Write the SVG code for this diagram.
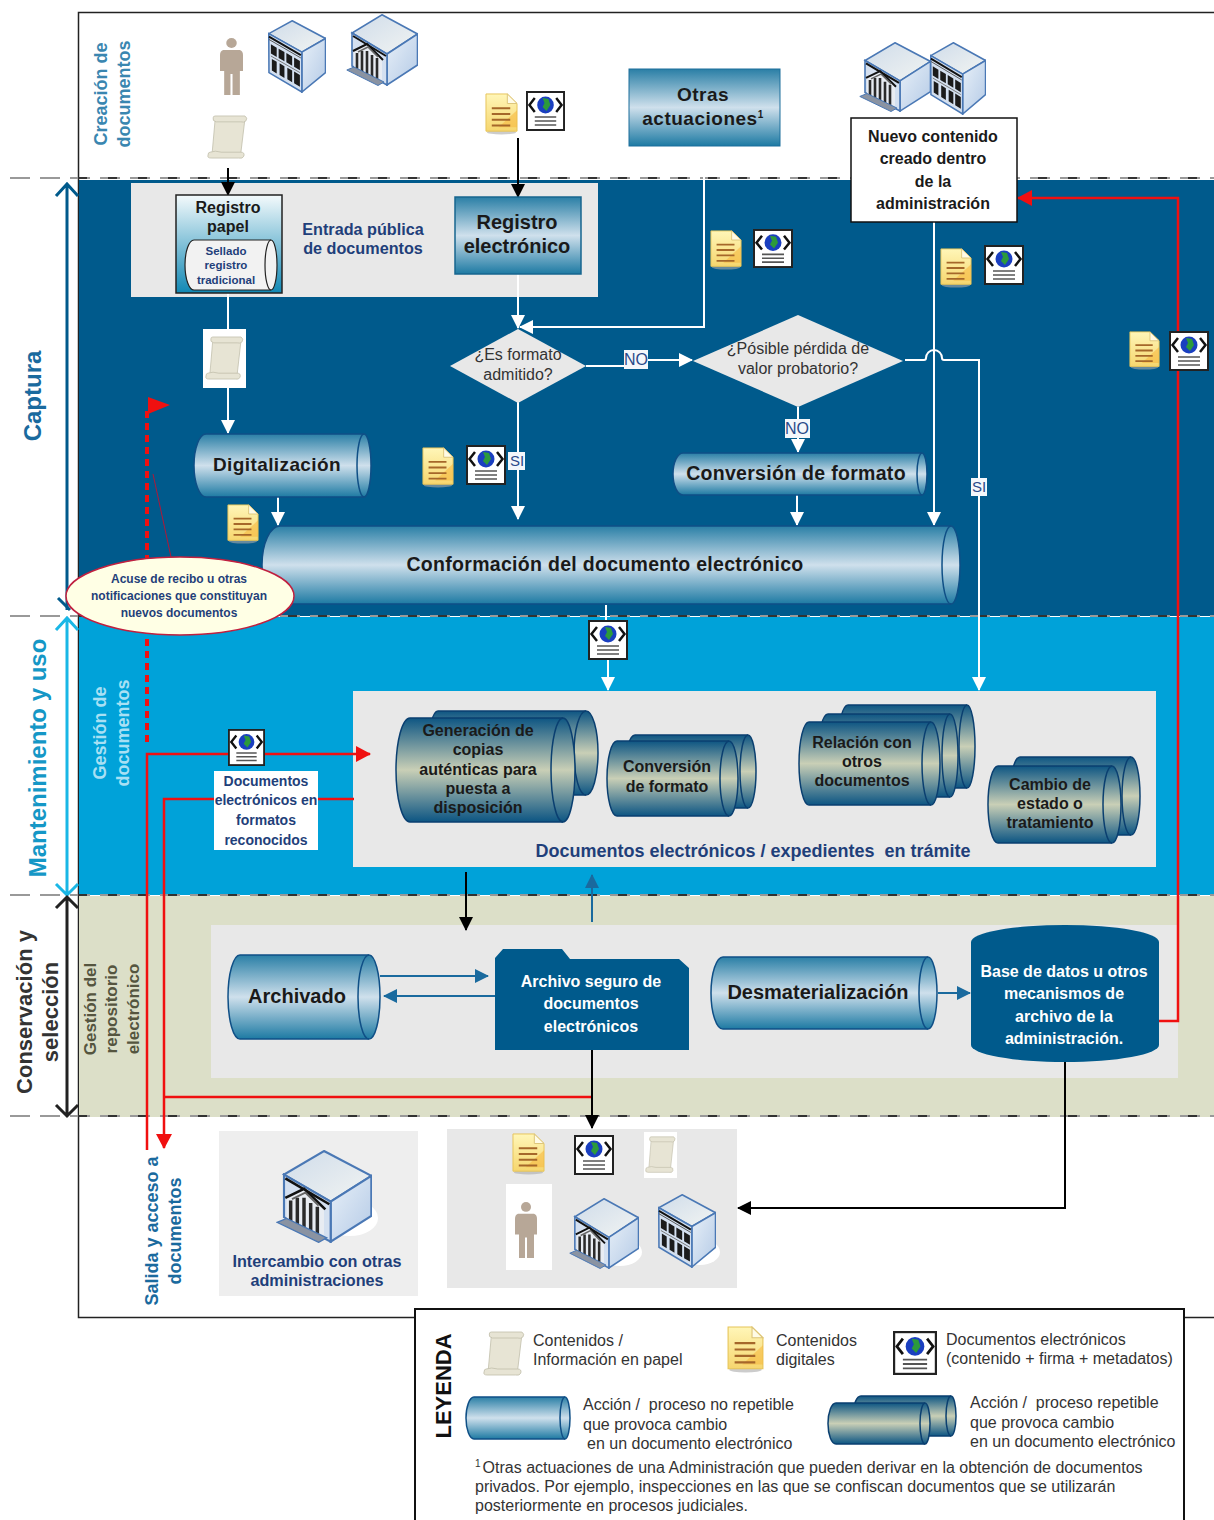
<svg xmlns="http://www.w3.org/2000/svg" width="1214" height="1520" viewBox="0 0 1214 1520">
<style>
text{font-family:"Liberation Sans",Arial,sans-serif;text-anchor:middle;white-space:pre}
.b{font-weight:bold}
.k{fill:#1a1a1a;font-weight:bold}
.n{fill:#1f3f7a;font-weight:bold}
.g{fill:#333;font-size:16px;text-anchor:start}
.w{fill:#fff;font-weight:bold}
.wl{fill:none;stroke:#fff;stroke-width:2}
.bl{fill:none;stroke:#000;stroke-width:2}
.rl{fill:none;stroke:#f01010;stroke-width:2.5}
.tl{fill:none;stroke:#1a6a9e;stroke-width:2}
.cy{stroke:#0f4f86;stroke-width:1.5}
.st{stroke:#0a3f70;stroke-width:1.5}
.lb{fill:#2b4a8a;font-size:16px}
.lbb{fill:#f4f7fb}
.sc{fill:#e7e4d4;stroke:#c2bfac;stroke-width:.8}
</style>
<defs>
<linearGradient id="gb" x1="0" y1="0" x2="0" y2="1"><stop offset="0" stop-color="#2a7fa6"/><stop offset=".5" stop-color="#cfe0ec"/><stop offset="1" stop-color="#1d7aa3"/></linearGradient>
<linearGradient id="gs" x1="0" y1="0" x2="0" y2="1"><stop offset="0" stop-color="#0e5683"/><stop offset=".5" stop-color="#c9cfb6"/><stop offset="1" stop-color="#0c5583"/></linearGradient>
<linearGradient id="gp" x1="0" y1="0" x2="0" y2="1"><stop offset="0" stop-color="#f4fafc"/><stop offset="1" stop-color="#1188b4"/></linearGradient>
<linearGradient id="gd" x1="0" y1="0" x2="0" y2="1"><stop offset="0" stop-color="#fff6b8"/><stop offset="1" stop-color="#f6d66e"/></linearGradient>
<linearGradient id="gf" x1="0" y1="0" x2="1" y2="1"><stop offset="0" stop-color="#e8f0f8"/><stop offset="1" stop-color="#b4cae6"/></linearGradient>
<linearGradient id="gt" x1="0" y1="0" x2="1" y2="1"><stop offset="0" stop-color="#cfdcea"/><stop offset="1" stop-color="#f2f4f2"/></linearGradient>
<marker id="aw" markerUnits="userSpaceOnUse" markerWidth="14" markerHeight="14" refX="13" refY="7" orient="auto"><path d="M0 0L14 7L0 14z" fill="#fff"/></marker>
<marker id="ak" markerUnits="userSpaceOnUse" markerWidth="14" markerHeight="14" refX="13" refY="7" orient="auto"><path d="M0 0L14 7L0 14z" fill="#000"/></marker>
<marker id="ar" markerUnits="userSpaceOnUse" markerWidth="15" markerHeight="16" refX="14" refY="8" orient="auto"><path d="M0 0L15 8L0 16z" fill="#f01010"/></marker>
<marker id="at" markerUnits="userSpaceOnUse" markerWidth="14" markerHeight="14" refX="13" refY="7" orient="auto"><path d="M0 0L14 7L0 14z" fill="#1a6a9e"/></marker>
<symbol id="scroll" viewBox="0 0 40 46" preserveAspectRatio="none"><path class="sc" d="M8 4H37L33 39H5Z"/><path class="sc" d="M8 1H37Q40 3 38 6Q36 8 33 7H9Q5 6 6 3Q6 1 8 1Z"/><path class="sc" d="M3 38Q8 36 14 38H33Q37 38 36 42Q35 45 31 44H4Q0 44 1 41Q1 38 3 38Z"/></symbol>
<symbol id="doc" viewBox="0 0 34 44" preserveAspectRatio="none"><ellipse cx="17" cy="41" rx="15" ry="2.500" fill="#aaa" opacity=".6"/><path d="M1 1H23L33 11V40H1Z" fill="url(#gd)" stroke="#e6c458"/><path d="M33 18V36H14Z" fill="#f6b63c" opacity=".55"/><path d="M23 1V11H33Z" fill="#fffbe6" stroke="#dcc478"/><path d="M7 16H26M7 22H26M7 28H26M7 34H26" stroke="#a5672a" stroke-width="2"/></symbol>
<symbol id="edoc" viewBox="0 0 40 40" preserveAspectRatio="none"><rect x="1" y="1" width="38" height="38" fill="#fff" stroke="#222" stroke-width="2"/><circle cx="20" cy="14" r="8.500" fill="#1a3fc0"/><path d="M17 7L23 8L25 14L21 20L17 16L19 12Z" fill="#2c9a3c"/><path d="M9 7L3.500 14L9 21M31 7L36.500 14L31 21" fill="none" stroke="#111" stroke-width="2.500"/><path d="M9 26H31M9 30H31M9 34H31" stroke="#555" stroke-width="1.600"/></symbol>
<symbol id="person" viewBox="0 0 22 58" preserveAspectRatio="none"><circle cx="11" cy="5" r="5" fill="#b7a797"/><path d="M3 12H19Q22 13 22 17V33H19V18V57H12V36H10V57H4V33V18V33H0V17Q0 13 3 12Z" fill="#b7a797"/></symbol>
<symbol id="office" viewBox="0 0 60 75" preserveAspectRatio="none"><path d="M25 .8L59.500 19L35 33L.8 14Z" fill="url(#gt)" stroke="#4a78b5" stroke-width="1.600"/><path d="M35 33L59.500 19V54L35 74Z" fill="url(#gf)" stroke="#4a78b5" stroke-width="1.600"/><path d="M.8 14L35 33V74L1 54Z" fill="#d4e0f0" stroke="#4a78b5" stroke-width="1.600"/><path d="M1 17L34 36" stroke="#111" stroke-width="2"/><path d="M1 20L34 39" stroke="#555" stroke-width="1"/><path fill="#1b1b1b" d="M3 25L9 28.500V38L3 34.500ZM11 29.500L17 33V42.500L11 39ZM19 34L25 37.500V47L19 43.500ZM27 38.500L33 42V51.500L27 48ZM4 40L9 43V55L4 52ZM12 44.500L17 47.500V59.500L12 56.500ZM20 49L25 52V64L20 61ZM27 53L33 56.500V68.500L27 65Z"/><path d="M3 37L33 54" stroke="#777" stroke-width="1"/></symbol>
<symbol id="bank" viewBox="0 0 72 72" preserveAspectRatio="none"><path d="M36 .8L71.500 20L41 40L6 19Z" fill="url(#gt)" stroke="#4a78b5" stroke-width="1.600"/><path d="M41 40L71.500 20V51L41 71Z" fill="url(#gf)" stroke="#4a78b5" stroke-width="1.600"/><path d="M6 19L41 40V71L6 52Z" fill="#d4e0f0" stroke="#4a78b5" stroke-width="1.600"/><path d="M7 22L40 42" stroke="#111" stroke-width="2"/><path d="M8 37L21 31L36 46V66L8 53Z" fill="#e8ecf2"/><path d="M7 37L21 30L37 46" fill="none" stroke="#111" stroke-width="2"/><path d="M11 39V55M16 37V58M21 37V60M26 41V63M31 44V65" stroke="#2a2a2a" stroke-width="2.600"/><path d="M12 38L22 33L32 43" fill="none" stroke="#666" stroke-width="1.500"/><path d="M.8 56L8 53L38 68L32 71.500Z" fill="#8a93a2" stroke="#4a78b5"/></symbol>
</defs>

<g id="bands">
<rect x="78.500" y="12.500" width="1140" height="1305" fill="#fff" stroke="#222" stroke-width="1.500"/>
<rect x="79" y="180" width="1135" height="436" fill="#005a8c"/>
<rect x="79" y="617" width="1135" height="278" fill="#00a2d9"/>
<rect x="79" y="896" width="1135" height="221" fill="#dcdfc8"/>
<path d="M10 178H1214M10 616H1214M10 895H1214M10 1116H1214" stroke="#999" stroke-width="2" stroke-dasharray="20 10"/>
<path d="M78 178H1214M78 616H1214M78 895H1214M78 1116H1214" stroke="#111" stroke-width="1.500" stroke-dasharray="9 21"/>
<path d="M67 610V184M56 196L67 184L78 196" fill="none" stroke="#005a8c" stroke-width="3"/>
<path d="M58 598L70 610" stroke="#005a8c" stroke-width="3"/>
<path d="M67 896V618M56 630L67 618L78 630M56 884L67 895L78 884" fill="none" stroke="#1ab7e6" stroke-width="3"/>
<path d="M67 1116V897M56 908L67 897L78 908M56 1105L67 1116L78 1105" fill="none" stroke="#222" stroke-width="3"/>
</g>

<g id="panels">
<rect x="131" y="183" width="467" height="114" fill="#e8e8e8"/>
<rect x="353" y="691" width="803" height="176" fill="#e8e8e8"/>
<rect x="211" y="925" width="967" height="153" fill="#e8e8e8"/>
<rect x="219" y="1131" width="199" height="165" fill="#eeeeee"/>
<rect x="447" y="1129" width="290" height="159" fill="#e8e8e8"/>
</g>

<g id="connectors">
<path class="bl" d="M228 168V195" marker-end="url(#ak)"/>
<path class="bl" d="M518 138V197" marker-end="url(#ak)"/>
<path class="bl" d="M466 872V930" marker-end="url(#ak)"/>
<path class="wl" d="M228 293V329"/>
<path class="wl" d="M228 388V433" marker-end="url(#aw)"/>
<path class="wl" d="M518 274V328" marker-end="url(#aw)"/>
<path class="wl" d="M704 146V327H520" marker-end="url(#aw)"/>
<path class="wl" d="M518 402V519" marker-end="url(#aw)"/>
<path class="wl" d="M586 366H636V360H692" marker-end="url(#aw)"/>
<path class="wl" d="M798 407V452" marker-end="url(#aw)"/>
<path class="wl" d="M278 497V525" marker-end="url(#aw)"/>
<path class="wl" d="M797 495V525" marker-end="url(#aw)"/>
<path class="wl" d="M934 222V525" marker-end="url(#aw)"/>
<path class="wl" d="M905 360H924Q926 360 926 358A8 8 0 0 1 942 358Q942 360 944 360H979V690" marker-end="url(#aw)"/>
<path class="wl" d="M606 605V622"/>
<path class="wl" d="M608 660V690" marker-end="url(#aw)"/>
<path class="tl" d="M380 976H488" marker-end="url(#at)"/>
<path class="tl" d="M495 996H384" marker-end="url(#at)"/>
<path class="tl" d="M592 922V875" marker-end="url(#at)"/>
<path class="tl" d="M938 993H970" marker-end="url(#at)"/>
<path class="rl" d="M1159 1021H1178V198H1018" marker-end="url(#ar)"/>
<path class="rl" d="M147 1150V754H370" marker-end="url(#ar)"/>
<path class="rl" d="M354 799H164V1148" marker-end="url(#ar)"/>
<path class="rl" d="M164 1097H592"/>
<path d="M147 742V410" fill="none" stroke="#f01010" stroke-width="4" stroke-dasharray="7 5"/>
<path d="M148 397L170 405L148 414Z" fill="#f01010"/>
<path d="M171 557L153 474" fill="none" stroke="#b01838" stroke-width="1"/>
<path class="bl" d="M592 1050V1128" marker-end="url(#ak)"/>
<path class="bl" d="M1065 1062V1208H738" marker-end="url(#ak)"/>
<g id="connector-labels">
<rect class="lbb" x="624" y="350" width="24" height="19"/><rect class="lbb" x="785" y="419" width="25" height="19"/>
<rect class="lbb" x="508" y="452" width="17" height="18"/><rect class="lbb" x="971" y="478" width="16" height="18"/>
<text x="636" y="365" class="lb">NO</text><text x="797" y="434" class="lb">NO</text><text x="517" y="466" class="lb" style="font-size:15px">SI</text><text x="979" y="492" class="lb" style="font-size:15px">SI</text>
</g>
</g>

<g id="side-labels">
<text transform="translate(41,396) rotate(-90)" font-size="24" class="b" fill="#1a6a9e">Captura</text>
<text transform="translate(46,758) rotate(-90)" font-size="24" class="b" fill="#1597c6">Mantenimiento y uso</text>
<text transform="translate(32,1012) rotate(-90)" font-size="22" class="b" fill="#333">Conservación y</text>
<text transform="translate(58,1012) rotate(-90)" font-size="22" class="b" fill="#333">selección</text>
<text transform="translate(107,94) rotate(-90)" font-size="18" class="b" fill="#3a86b0">Creación de</text>
<text transform="translate(130,94) rotate(-90)" font-size="18" class="b" fill="#3a86b0">documentos</text>
<text transform="translate(106,733) rotate(-90)" font-size="18" class="b" fill="#a8e0f4">Gestión de</text>
<text transform="translate(129,733) rotate(-90)" font-size="18" class="b" fill="#a8e0f4">documentos</text>
<text transform="translate(96,1009) rotate(-90)" font-size="17" class="b" fill="#55553f">Gestión del</text>
<text transform="translate(117,1009) rotate(-90)" font-size="17" class="b" fill="#55553f">repositorio</text>
<text transform="translate(139,1009) rotate(-90)" font-size="17" class="b" fill="#55553f">electrónico</text>
<text transform="translate(158,1231) rotate(-90)" font-size="18" class="b" fill="#1a6a9e">Salida y acceso a</text>
<text transform="translate(181,1231) rotate(-90)" font-size="18" class="b" fill="#1a6a9e">documentos</text>
</g>

<g id="icons">
<use href="#person" x="220" y="38" width="23" height="58"/>
<use href="#office" x="268" y="20" width="58" height="73"/>
<use href="#bank" x="346" y="14" width="72" height="72"/>
<use href="#scroll" x="207" y="115" width="41" height="45"/>
<use href="#doc" x="485" y="93" width="33" height="42"/>
<use href="#edoc" x="526" y="91" width="39" height="40"/>
<use href="#bank" x="859" y="42" width="72" height="70"/>
<use href="#office" x="930" y="42" width="56" height="73"/>
<use href="#doc" x="710" y="230" width="32" height="40"/>
<use href="#edoc" x="753" y="229" width="40" height="39"/>
<use href="#doc" x="940" y="248" width="32" height="40"/>
<use href="#edoc" x="984" y="245" width="40" height="40"/>
<use href="#doc" x="1129" y="331" width="31" height="39"/>
<use href="#edoc" x="1169" y="331" width="40" height="40"/>
<rect x="203" y="329" width="43" height="59" fill="#fff"/>
<use href="#scroll" x="205" y="336" width="39" height="45"/>
<use href="#doc" x="422" y="447" width="32" height="41"/>
<use href="#edoc" x="466" y="445" width="40" height="40"/>
<use href="#doc" x="227" y="504" width="32" height="40"/>
<use href="#edoc" x="588" y="620" width="40" height="40"/>
<use href="#edoc" x="228" y="729" width="37" height="37"/>
<use href="#doc" x="512" y="1133" width="33" height="42"/>
<use href="#edoc" x="574" y="1135" width="40" height="40"/>
<rect x="644" y="1132" width="33" height="46" fill="#fff"/>
<use href="#scroll" x="645" y="1136" width="31" height="38"/>
<rect x="506" y="1184" width="46" height="86" fill="#fff"/>
<use href="#person" x="515" y="1202" width="22" height="57"/>
<ellipse cx="620" cy="1252" rx="22" ry="14" fill="#fff"/>
<use href="#bank" x="569" y="1198" width="70" height="71"/>
<ellipse cx="700" cy="1252" rx="20" ry="13" fill="#fff"/>
<use href="#office" x="658" y="1194" width="58" height="74"/>
<ellipse cx="350" cy="1218" rx="28" ry="18" fill="#fff"/>
<use href="#bank" x="276" y="1150" width="96" height="93"/>
</g>

<g id="creation">
<g id="otras"><rect x="629" y="69" width="151" height="77" fill="url(#gb)" stroke="#1d6f9c"/>
<text x="703" y="101" font-size="19" class="k" letter-spacing=".5">Otras</text><text x="703" y="125" font-size="19" class="k" letter-spacing=".5">actuaciones<tspan font-size="10" dy="-7">1</tspan></text></g>
<g id="nuevo"><rect x="851" y="118" width="166" height="104" fill="#fff" stroke="#111" stroke-width="1.500"/>
<g font-size="16" class="k"><text x="933" y="142" class="k">Nuevo contenido</text><text x="933" y="164" class="k">creado dentro</text><text x="933" y="187" class="k">de la</text><text x="933" y="209" class="k">administración</text></g></g>
</g>

<g id="registro">
<g id="reg-papel"><rect x="176" y="195" width="106" height="98" fill="url(#gp)" stroke="#222" stroke-width="1.500"/>
<text x="228" y="213" font-size="16" class="k">Registro</text><text x="228" y="232" font-size="16" class="k">papel</text>
<path d="M194 240H271A6 25 0 0 1 271 290H194A9 25 0 0 1 194 240Z" fill="#f2f2f2" stroke="#222" stroke-width="1.200"/><path d="M271 240A6 25 0 0 0 271 290" fill="none" stroke="#222" stroke-width="1.200"/>
<g font-size="11.500"><text x="226" y="255" class="n">Sellado</text><text x="226" y="269" class="n">registro</text><text x="226" y="284" class="n">tradicional</text></g></g>
<g id="entrada"><text x="363" y="235" font-size="16.200" class="n">Entrada pública</text><text x="363" y="254" font-size="16.200" class="n">de documentos</text></g>
<g id="reg-elec"><rect x="455" y="197" width="126" height="77" fill="url(#gb)" stroke="#17658f" stroke-width="1.500"/>
<text x="517" y="229" font-size="20" class="k">Registro</text><text x="517" y="253" font-size="20" class="k">electrónico</text></g>
</g>

<g id="decisions">
<g id="d1"><path d="M518 329L586 366L518 403L450 366Z" fill="#e8e8e8"/><text x="518" y="360" font-size="16" fill="#333">¿Es formato</text><text x="518" y="380" font-size="16" fill="#333">admitido?</text></g>
<g id="d2"><path d="M798 315L903 361L798 407L693 361Z" fill="#e8e8e8"/><text x="798" y="354" font-size="16" fill="#333">¿Pósible pérdida de</text><text x="798" y="374" font-size="16" fill="#333">valor probatorio?</text></g>
</g>

<g id="processes">
<g id="digital"><path d="M206 434H364A7 31.500 0 0 1 364 497H206A12 31.500 0 0 1 206 434Z" fill="url(#gb)" class="cy"/><path d="M364 434A7 31.500 0 0 0 364 497" fill="none" class="cy"/><text x="277" y="471" font-size="19" class="k" letter-spacing=".4">Digitalización</text></g>
<g id="conversion"><path d="M683 453H922A5 21 0 0 1 922 495H683A10 21 0 0 1 683 453Z" fill="url(#gb)" class="cy"/><path d="M922 453A5 21 0 0 0 922 495" fill="none" class="cy"/><text x="796" y="480" font-size="19.500" class="k" letter-spacing=".3">Conversión de formato</text></g>
<g id="conforma"><path d="M280 526H951A9 39 0 0 1 951 604H280A18 39 0 0 1 280 526Z" fill="url(#gb)" class="cy"/><path d="M951 526A9 39 0 0 0 951 604" fill="none" class="cy"/><text x="605" y="571" font-size="19.500" class="k" letter-spacing=".3">Conformación del documento electrónico</text></g>
<g id="archivado"><path d="M240 955H369A11 42 0 0 1 369 1039H240A12 42 0 0 1 240 955Z" fill="url(#gb)" class="cy"/><path d="M369 955A11 42 0 0 0 369 1039" fill="none" class="cy"/><text x="297" y="1003" font-size="20" class="k">Archivado</text></g>
<g id="desmat"><path d="M723 957H928A9 36 0 0 1 928 1029H723A12 36 0 0 1 723 957Z" fill="url(#gb)" class="cy"/><path d="M928 957A9 36 0 0 0 928 1029" fill="none" class="cy"/><text x="818" y="999" font-size="20" class="k">Desmaterialización</text></g>
</g>

<g id="repeatables">
<g id="copias">
<path d="M438 711H586A12 42 0 0 1 586 795H438A10 42 0 0 1 438 711Z" fill="url(#gs)" class="st"/><path d="M586 711A12 42 0 0 0 586 795" fill="none" class="st"/>
<path d="M410 718H563A12 52 0 0 1 563 822H410A14 52 0 0 1 410 718Z" fill="url(#gs)" class="st"/><path d="M563 718A12 52 0 0 0 563 822" fill="none" class="st"/>
<g font-size="16"><text x="478" y="736" class="k">Generación de</text><text x="478" y="755" class="k">copias</text><text x="478" y="775" class="k">auténticas para</text><text x="478" y="794" class="k">puesta a</text><text x="478" y="813" class="k">disposición</text></g></g>
<g id="conv2">
<path d="M635 735H748A8 36.500 0 0 1 748 808H635A10 36.500 0 0 1 635 735Z" fill="url(#gs)" class="st"/><path d="M748 735A8 36.500 0 0 0 748 808" fill="none" class="st"/>
<path d="M617 741H729A9 37.500 0 0 1 729 816H617A10 37.500 0 0 1 617 741Z" fill="url(#gs)" class="st"/><path d="M729 741A9 37.500 0 0 0 729 816" fill="none" class="st"/>
<g font-size="16"><text x="667" y="772" class="k">Conversión</text><text x="667" y="792" class="k">de formato</text></g></g>
<g id="relacion">
<path d="M848 705H967A8 41.500 0 0 1 967 788H848A10 41.500 0 0 1 848 705Z" fill="url(#gs)" class="st"/><path d="M967 705A8 41.500 0 0 0 967 788" fill="none" class="st"/>
<path d="M828 714H950A8 41.500 0 0 1 950 797H828A10 41.500 0 0 1 828 714Z" fill="url(#gs)" class="st"/><path d="M950 714A8 41.500 0 0 0 950 797" fill="none" class="st"/>
<path d="M809 722H931A9 41.500 0 0 1 931 805H809A10 41.500 0 0 1 809 722Z" fill="url(#gs)" class="st"/><path d="M931 722A9 41.500 0 0 0 931 805" fill="none" class="st"/>
<g font-size="16"><text x="862" y="748" class="k">Relación con</text><text x="862" y="767" class="k">otros</text><text x="862" y="786" class="k">documentos</text></g></g>
<g id="cambio">
<path d="M1020 757H1131A9 39 0 0 1 1131 835H1020A10 39 0 0 1 1020 757Z" fill="url(#gs)" class="st"/><path d="M1131 757A9 39 0 0 0 1131 835" fill="none" class="st"/>
<path d="M998 766H1112A9 38.500 0 0 1 1112 843H998A10 38.500 0 0 1 998 766Z" fill="url(#gs)" class="st"/><path d="M1112 766A9 38.500 0 0 0 1112 843" fill="none" class="st"/>
<g font-size="16"><text x="1050" y="790" class="k">Cambio de</text><text x="1050" y="809" class="k">estado o</text><text x="1050" y="828" class="k">tratamiento</text></g></g>
<text id="doc-exp" x="753" y="857" font-size="18" class="n">Documentos electrónicos / expedientes  en trámite</text>
</g>

<g id="red-labels">
<g id="acuse"><ellipse cx="180" cy="596" rx="114" ry="39" fill="#ffffe5" stroke="#c0203f" stroke-width="1.500"/>
<g font-size="12"><text x="179" y="583" class="n">Acuse de recibo u otras</text><text x="179" y="600" class="n">notificaciones que constituyan</text><text x="179" y="617" class="n">nuevos documentos</text></g></g>
<g id="formatos"><rect x="214" y="771" width="104" height="79" fill="#fff"/>
<g font-size="14"><text x="266" y="786" class="n">Documentos</text><text x="266" y="805" class="n">electrónicos en</text><text x="266" y="825" class="n">formatos</text><text x="266" y="845" class="n">reconocidos</text></g></g>
</g>

<g id="repository">
<g id="seguro"><path d="M495 1050V958L503 949H562L570 959H679L689 968V1050Z" fill="#005a8c"/>
<g font-size="16" class="w"><text x="591" y="987" class="w">Archivo seguro de</text><text x="591" y="1009" class="w">documentos</text><text x="591" y="1032" class="w">electrónicos</text></g></g>
<g id="bbdd"><path d="M971 942A94 17 0 0 1 1159 942V1045A94 17 0 0 1 971 1045Z" fill="#005a8c"/>
<g font-size="16"><text x="1064" y="977" class="w">Base de datos u otros</text><text x="1064" y="999" class="w">mecanismos de</text><text x="1064" y="1022" class="w">archivo de la</text><text x="1064" y="1044" class="w">administración.</text></g></g>
<g id="intercambio"><text x="317" y="1267" font-size="16.200" class="n">Intercambio con otras</text><text x="317" y="1286" font-size="16.200" class="n">administraciones</text></g>
</g>

<g id="legend">
<rect x="415" y="1309" width="769" height="215" fill="#fff" stroke="#111" stroke-width="2"/>
<text transform="translate(451,1386) rotate(-90)" font-size="22" class="b" fill="#111">LEYENDA</text>
<use href="#scroll" x="483" y="1331" width="42" height="46"/>
<use href="#doc" x="727" y="1326" width="37" height="47"/>
<use href="#edoc" x="893" y="1331" width="44" height="44"/>
<text class="g" x="533" y="1346">Contenidos /</text><text class="g" x="533" y="1365">Información en papel</text>
<text class="g" x="776" y="1346">Contenidos</text><text class="g" x="776" y="1365">digitales</text>
<text class="g" x="946" y="1345">Documentos electrónicos</text><text class="g" x="946" y="1364">(contenido + firma + metadatos)</text>
<path d="M474 1397H565A5 21 0 0 1 565 1439H474A8 21 0 0 1 474 1397Z" fill="url(#gb)" class="cy"/><path d="M565 1397A5 21 0 0 0 565 1439" fill="none" class="cy"/>
<path d="M861 1396H951A5 20 0 0 1 951 1436H861A8 20 0 0 1 861 1396Z" fill="url(#gs)" class="st"/><path d="M951 1396A5 20 0 0 0 951 1436" fill="none" class="st"/>
<path d="M836 1403H925A5 20.500 0 0 1 925 1444H836A8 20.500 0 0 1 836 1403Z" fill="url(#gs)" class="st"/><path d="M925 1403A5 20.500 0 0 0 925 1444" fill="none" class="st"/>
<text class="g" x="583" y="1410">Acción /  proceso no repetible</text><text class="g" x="583" y="1430">que provoca cambio</text><text class="g" x="587" y="1449">en un documento electrónico</text>
<text class="g" x="970" y="1408">Acción /  proceso repetible</text><text class="g" x="970" y="1428">que provoca cambio</text><text class="g" x="970" y="1447">en un documento electrónico</text>
<text class="g" x="475" y="1473"><tspan font-size="10" dy="-6">1</tspan><tspan dy="6" dx="2">Otras actuaciones de una Administración que pueden derivar en la obtención de documentos</tspan></text>
<text class="g" x="475" y="1492">privados. Por ejemplo, inspecciones en las que se confiscan documentos que se utilizarán</text>
<text class="g" x="475" y="1511">posteriormente en procesos judiciales.</text>
</g>
</svg>
